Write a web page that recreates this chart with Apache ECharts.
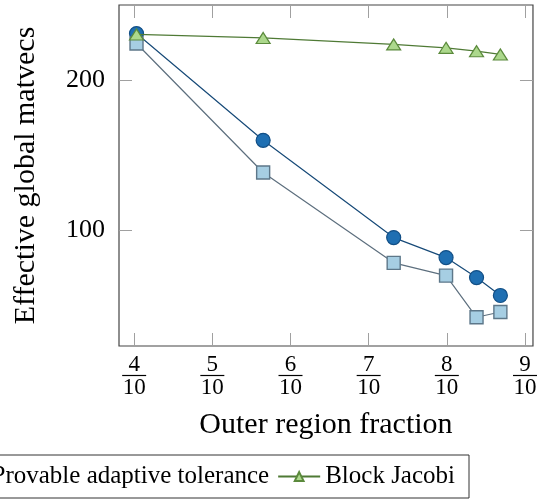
<!DOCTYPE html>
<html>
<head>
<meta charset="utf-8">
<script src="https://cdn.jsdelivr.net/npm/echarts@6/dist/echarts.min.js"></script>
<style>html,body{margin:0;padding:0;background:#fff}#c{width:540px;height:500px}</style>
</head>
<body>
<div id="c"></div>
<script>
// Data
const xValues = [0.403, 0.565, 0.732, 0.799, 0.838, 0.8685];
const heuristic = [231, 160, 95.3, 82, 68.7, 56.8];
const provable = [224.4, 138.6, 78.5, 70, 42.3, 45.8];
const blockJacobi = [230.4, 228.1, 223.8, 221.5, 219.3, 217.1];
const xTicks = [0.4, 0.5, 0.6, 0.7, 0.8, 0.9];
const xTickNumerators = ['4', '5', '6', '7', '8', '9'];
const xTickDenominator = '10';
const yTicks = [100, 200];
const seriesNames = ['Heuristic adaptive tolerance', 'Provable adaptive tolerance', 'Block Jacobi'];

const FONT = 'Liberation Serif';
const pairs = (ys) => xValues.map((x, i) => [x, ys[i]]);

const chart = echarts.init(document.getElementById('c'), null, {renderer: 'canvas'});
const xMin = 0.3806, xMax = 0.9102, yMin = 23.2, yMax = 250;
const tickStyle = {show: true, inside: true, length: 13, lineStyle: {color: '#a0a0a0', width: 1}};

chart.setOption({
  animation: false,
  backgroundColor: '#fff',
  grid: {left: 119, right: 4, top: 5, bottom: 154, show: true, borderColor: '#444', borderWidth: 1.2, backgroundColor: 'transparent'},
  xAxis: [{
    type: 'value', min: xMin, max: xMax, position: 'bottom',
    name: 'Outer region fraction', nameLocation: 'middle', nameGap: 64,
    nameTextStyle: {fontFamily: FONT, fontSize: 30, color: '#000'},
    axisLine: {show: false}, splitLine: {show: false},
    axisTick: Object.assign({customValues: xTicks}, tickStyle),
    axisLabel: {
      customValues: xTicks, margin: 10, color: '#000', fontFamily: FONT,
      formatter: (v) => {
        const i = xTicks.findIndex(t => Math.abs(t - v) < 1e-9);
        return '{n|' + xTickNumerators[i] + '}\n{bar| }\n{d|' + xTickDenominator + '}';
      },
      rich: {
        n: {fontFamily: FONT, fontSize: 23, lineHeight: 18, color: '#000', align: 'center'},
        bar: {width: 24, height: 1.2, lineHeight: 3, fontSize: 1, backgroundColor: '#000', align: 'center'},
        d: {fontFamily: FONT, fontSize: 23, lineHeight: 22, color: '#000', align: 'center'}
      }
    }
  }, {
    type: 'value', min: xMin, max: xMax, position: 'top',
    axisLine: {show: false}, splitLine: {show: false}, axisLabel: {show: false},
    axisTick: Object.assign({customValues: xTicks}, tickStyle)
  }],
  yAxis: [{
    type: 'value', min: yMin, max: yMax, position: 'left',
    name: 'Effective global matvecs', nameLocation: 'middle', nameGap: 78,
    nameTextStyle: {fontFamily: FONT, fontSize: 30, color: '#000'},
    axisLine: {show: false}, splitLine: {show: false},
    axisTick: Object.assign({customValues: yTicks}, tickStyle),
    axisLabel: {customValues: yTicks, margin: 14, fontFamily: FONT, fontSize: 26, color: '#000'}
  }, {
    type: 'value', min: yMin, max: yMax, position: 'right',
    axisLine: {show: false}, splitLine: {show: false}, axisLabel: {show: false},
    axisTick: Object.assign({customValues: yTicks}, tickStyle)
  }],
  legend: {
    right: 71, bottom: 2, width: 3000,
    data: seriesNames,
    orient: 'horizontal', itemWidth: 42, itemHeight: 11, itemGap: 8,
    padding: [9, 14, 9, 8],
    borderColor: '#333', borderWidth: 1, backgroundColor: '#fff',
    textStyle: {fontFamily: FONT, fontSize: 25, color: '#000'}
  },
  series: [{
    name: seriesNames[0], type: 'line', data: pairs(heuristic),
    symbol: 'circle', symbolSize: 14,
    lineStyle: {color: '#174a78', width: 1.2},
    itemStyle: {color: '#1f6fb2', borderColor: '#124f86', borderWidth: 1.2},
    z: 2
  }, {
    name: seriesNames[1], type: 'line', data: pairs(provable),
    symbol: 'rect', symbolSize: 13,
    lineStyle: {color: '#5d6f7e', width: 1.2},
    itemStyle: {color: '#a6cee3', borderColor: '#5d7789', borderWidth: 1.4},
    z: 3
  }, {
    name: seriesNames[2], type: 'line', data: pairs(blockJacobi),
    symbol: 'triangle', symbolSize: [14, 11],
    lineStyle: {color: '#4f7a35', width: 1.2},
    itemStyle: {color: '#acd88c', borderColor: '#5b8a3c', borderWidth: 1.2},
    z: 4
  }]
});
</script>
</body>
</html>
